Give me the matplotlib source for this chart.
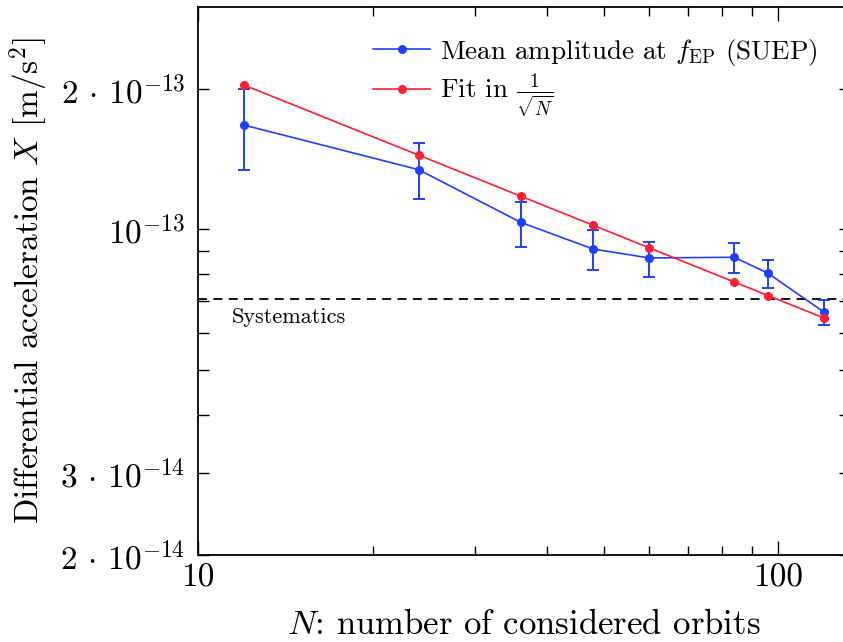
import matplotlib
matplotlib.use("Agg")
import matplotlib.pyplot as plt
from matplotlib.lines import Line2D
from matplotlib.ticker import FixedLocator, NullFormatter, FixedFormatter

plt.rcParams['mathtext.fontset'] = 'cm'
plt.rcParams['font.family'] = 'serif'
plt.rcParams['font.serif'] = ['cmr10', 'DejaVu Serif']
plt.rcParams['axes.unicode_minus'] = False
plt.rcParams['axes.formatter.use_mathtext'] = True

# Data
n_orbits = [12, 24, 36, 48, 60, 84, 96, 120]
mean_amp = [1.674e-13, 1.343e-13, 1.035e-13, 0.907e-13, 0.868e-13, 0.871e-13, 0.805e-13, 0.664e-13]
err_upper = [2.00e-13, 1.533e-13, 1.147e-13, 0.997e-13, 0.940e-13, 0.934e-13, 0.859e-13, 0.705e-13]
err_lower = [1.343e-13, 1.162e-13, 0.917e-13, 0.819e-13, 0.791e-13, 0.805e-13, 0.747e-13, 0.623e-13]
fit_vals = [2.04e-13, 1.443e-13, 1.178e-13, 1.020e-13, 0.912e-13, 0.771e-13, 0.721e-13, 0.645e-13]
systematics = 7.08e-14

ytick_vals = [2e-14, 3e-14, 1e-13, 2e-13]
ytick_labels = [r'$2\,\cdot\,10^{-14}$', r'$3\,\cdot\,10^{-14}$', r'$10^{-13}$', r'$2\,\cdot\,10^{-13}$']
yminor_vals = [4e-14, 5e-14, 6e-14, 7e-14, 8e-14, 9e-14]
xtick_vals = [10, 100]
xtick_labels = ['10', '100']
xminor_vals = [20, 30, 40, 50, 60, 70, 80, 90]

W, H = 843, 642
fig = plt.figure(figsize=(W / 100, H / 100), dpi=100)
ax = fig.add_axes([198 / W, 1 - 555 / H, (850 - 198) / W, (555 - 7) / H])

blue = '#2040ff'
red = '#ff1f35'

yerr = [[m - lo for m, lo in zip(mean_amp, err_lower)],
        [hi - m for m, hi in zip(mean_amp, err_upper)]]
ax.errorbar(n_orbits, mean_amp, yerr=yerr, color=blue, marker='o', ms=5.5,
            lw=1.2, elinewidth=1.4, capsize=4, capthick=1.4, zorder=3)
ax.plot(n_orbits, fit_vals, color=red, marker='o', ms=5.5, lw=1.2, zorder=4)
ax.axhline(systematics, color='black', lw=1.3, ls=(0, (5, 3.5)), zorder=2)
ax.text(11.45, systematics * 0.962, 'Systematics', fontsize=16,
        ha='left', va='top')

ax.set_xscale('log')
ax.set_yscale('log')
ax.set_xlim(10, 133)
ax.set_ylim(2e-14, 3.0e-13)

ax.yaxis.set_major_locator(FixedLocator(ytick_vals))
ax.yaxis.set_major_formatter(FixedFormatter(ytick_labels))
ax.yaxis.set_minor_locator(FixedLocator(yminor_vals))
ax.yaxis.set_minor_formatter(NullFormatter())
ax.xaxis.set_major_locator(FixedLocator(xtick_vals))
ax.xaxis.set_major_formatter(FixedFormatter(xtick_labels))
ax.xaxis.set_minor_locator(FixedLocator(xminor_vals))
ax.xaxis.set_minor_formatter(NullFormatter())

ax.tick_params(axis='both', which='both', direction='in', top=True, right=True,
               labelsize=24, width=1.0)
ax.tick_params(axis='x', which='major', length=10, pad=6)
ax.tick_params(axis='x', which='minor', length=6.5)
ax.tick_params(axis='y', which='major', length=8, pad=9)
ax.tick_params(axis='y', which='minor', length=8)
for s in ax.spines.values():
    s.set_linewidth(1.3)

ax.set_xlabel(r'$N$: number of considered orbits', fontsize=25, labelpad=12)
ax.set_ylabel(r'Differential acceleration $X$ [m/s$^2$]', fontsize=24, labelpad=7)

handles = [
    Line2D([], [], color=blue, marker='o', ms=5.5, lw=1.2),
    Line2D([], [], color=red, marker='o', ms=5.5, lw=1.2),
]
labels = [r'Mean amplitude at $f_{\rm EP}$ (SUEP)', r'Fit in $\frac{1}{\sqrt{N}}$']
ax.legend(handles, labels, loc='upper left', bbox_to_anchor=(0.2316, 0.9905),
          frameon=False, fontsize=19.5, handlelength=2.1, handletextpad=0.35,
          labelspacing=0.13)

fig.savefig('out.png', dpi=100)
